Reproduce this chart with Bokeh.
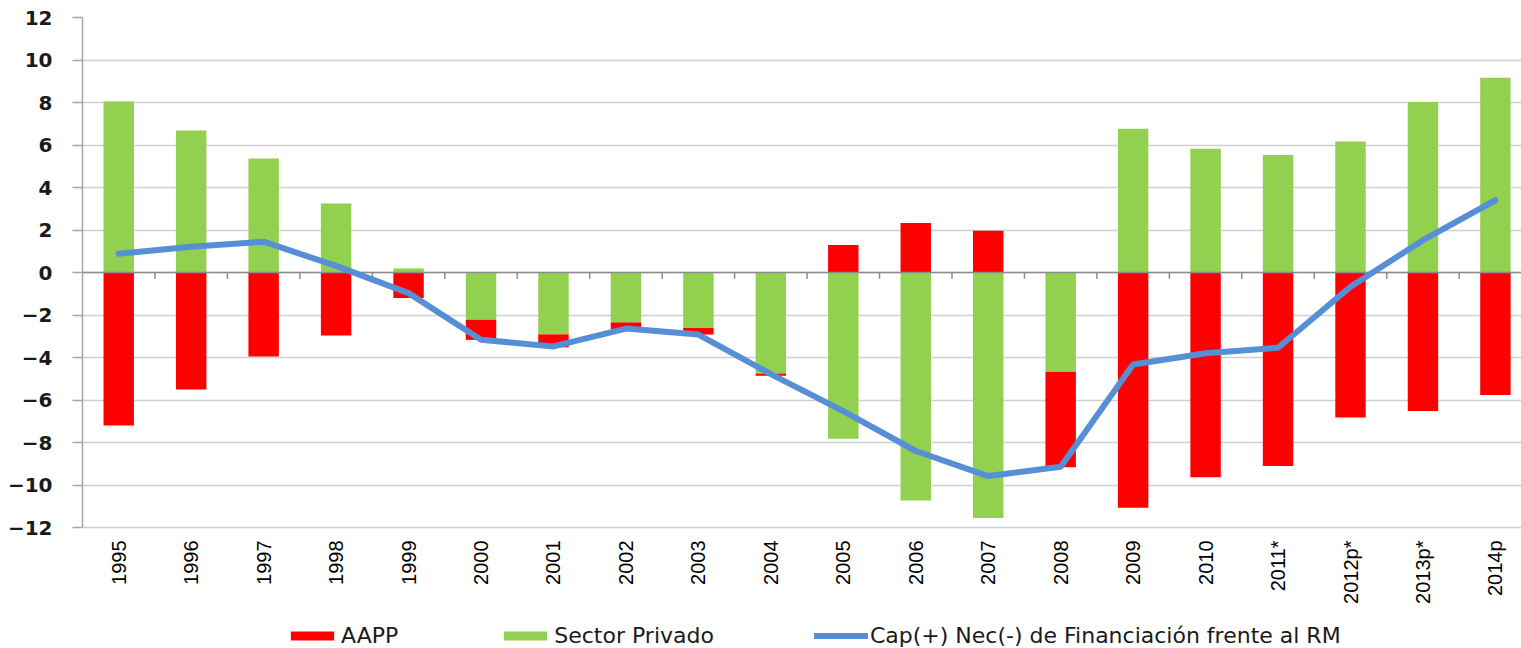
from math import pi

from bokeh.plotting import figure
from bokeh.models import Range1d, FixedTicker, Legend, LegendItem, Span
from bokeh.core.properties import value
from bokeh.embed import file_html
from bokeh.resources import INLINE

# ---- data ----
categories = ["1995", "1996", "1997", "1998", "1999", "2000", "2001", "2002",
              "2003", "2004", "2005", "2006", "2007", "2008", "2009", "2010",
              "2011*", "2012p*", "2013p*", "2014p"]
aapp = [-7.20, -5.50, -3.95, -2.96, -1.20, -0.94, -0.61, -0.31, -0.31, -0.10,
        1.29, 2.33, 1.97, -4.50, -11.07, -9.63, -9.10, -6.82, -6.52, -5.77]
sector_privado = [8.05, 6.68, 5.36, 3.25, 0.19, -2.23, -2.91, -2.35, -2.61, -4.76,
                  -7.82, -10.73, -11.55, -4.67, 6.77, 5.82, 5.53, 6.17, 8.02, 9.17]
cap_nec = [0.88, 1.21, 1.45, 0.31, -0.97, -3.16, -3.48, -2.64, -2.92, -4.78,
           -6.52, -8.40, -9.58, -9.14, -4.33, -3.80, -3.54, -0.67, 1.52, 3.40]
y_ticks = list(range(-12, 13, 2))
y_min, y_max = -12, 12

# ---- derived positions (stacking like Excel) ----
idx = list(range(len(categories)))
g_bottom = [0.0] * len(idx)
g_top = sector_privado
r_bottom = [p if a * p > 0 else 0.0 for a, p in zip(aapp, sector_privado)]
r_top = [b + a for b, a in zip(r_bottom, aapp)]
bounds = [i + 0.5 for i in idx[:-1]]

# the frame reaches the bottom of the page so that the labels and the legend
# sit inside it; the value range -12..12 keeps its 510 px height
p = figure(frame_width=1439, frame_height=631,
           min_border_left=82, min_border_right=0, min_border_top=17,
           min_border_bottom=0,
           x_range=Range1d(-0.5, 19.36), y_range=Range1d(y_max - 631 / 21.25, y_max),
           x_axis_type=None,
           output_backend="svg", toolbar_location=None)
p.outline_line_color = None
p.background_fill_color = "white"

green = p.vbar(x=idx, width=0.42, top=g_top, bottom=g_bottom,
               fill_color="#92d050", line_color=None)
red = p.vbar(x=idx, width=0.42, top=r_top, bottom=r_bottom,
             fill_color="#ff0000", line_color=None)

# zero line and category tick marks
p.add_layout(Span(location=0, dimension="width", line_color="#8c8c8c", line_width=1.5))
p.segment(x0=bounds, y0=[0] * len(bounds), x1=bounds, y1=[-0.3] * len(bounds),
          line_color="#8c8c8c", line_width=1.5)

line = p.line(x=idx, y=cap_nec, line_color="#578fd6", line_width=6,
              line_cap="round", line_join="round", level="overlay")

# category labels under the value axis
p.text(x=idx, y=[y_min] * len(idx), text=categories, angle=pi / 2,
       y_offset=13, text_align="right", text_baseline="middle",
       text_font=value("Liberation Sans"), text_font_size="20px",
       text_color="#000000")

# y axis
yax = p.yaxis[0]
yax.bounds = (y_min, y_max)
yax.ticker = FixedTicker(ticks=y_ticks)
yax.axis_line_color = "#a6a6a6"
yax.axis_line_width = 1.5
yax.major_tick_line_color = "#a6a6a6"
yax.major_tick_line_width = 1.5
yax.major_tick_out = 10
yax.major_tick_in = 0
yax.minor_tick_line_color = None
yax.major_label_standoff = 20
yax.major_label_text_font = "DejaVu Sans"
yax.major_label_text_font_style = "bold"
yax.major_label_text_font_size = "20px"
yax.major_label_text_color = "#1a1a1a"

p.ygrid.ticker = FixedTicker(ticks=y_ticks)
p.ygrid.grid_line_color = "#d0d0d0"
p.ygrid.grid_line_width = 1.5
p.xgrid.grid_line_color = None

legend = Legend(items=[LegendItem(label="AAPP", renderers=[red]),
                       LegendItem(label="Sector Privado", renderers=[green]),
                       LegendItem(label="Cap(+) Nec(-) de Financiación frente al RM",
                                  renderers=[line])],
                orientation="horizontal", location=(203, 0),
                spacing=100, glyph_width=54, glyph_height=11, label_standoff=2,
                padding=0, margin=0, border_line_color=None,
                background_fill_alpha=0,
                label_text_font="DejaVu Sans", label_text_font_size="22px",
                label_text_color="#1a1a1a")
p.add_layout(legend)

open("out.html", "w").write(file_html(p, INLINE))
